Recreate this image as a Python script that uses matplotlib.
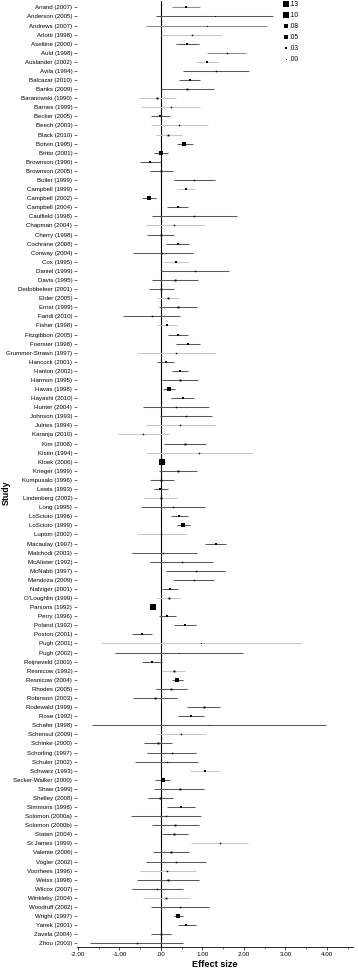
import matplotlib
matplotlib.use("Agg")
import matplotlib.pyplot as plt
from matplotlib.lines import Line2D
from matplotlib.ticker import MultipleLocator, FixedLocator

plt.rcParams['font.family'] = ['Liberation Sans', 'DejaVu Sans']

studies = ["Anand (2007)", "Anderson (2005)", "Andrews (2007)", "Arlotti (1998)", "Aseltine (2000)",
           "Auld (1998)", "Auslander (2002)", "Avila (1994)", "Balcazar (2010)", "Banks (2009)",
           "Baranowski (1990)", "Barnes (1999)", "Becker (2005)", "Beech (2003)", "Black (2010)",
           "Botvin (1995)", "Britto (2001)", "Brownson (1996)", "Brownson (2005)", "Buller (1999)",
           "Campbell (1999)", "Campbell (2002)", "Campbell (2004)", "Caulfield (1998)", "Chapman (2004)",
           "Cherry (1998)", "Cochrane (2008)", "Conway (2004)", "Cox (1995)", "Daniel (1999)",
           "Davis (1995)", "Dedobbeleer (2001)", "Elder (2005)", "Ernst (1999)", "Faridi (2010)",
           "Fisher (1998)", "Fitzgibbon (2005)", "Foerster (1998)", "Grummer-Strawn (1997)", "Hancock (2001)",
           "Hanlon (2002)", "Harmon (1995)", "Havas (1998)", "Hayashi (2010)", "Hunter (2004)",
           "Johnson (1993)", "Julnes (1994)", "Karanja (2010)", "Kim (2008)", "Kistin (1994)",
           "Kloek (2006)", "Krieger (1999)", "Kumpusalo (1996)", "Lewis (1993)", "Lindenberg (2002)",
           "Long (1995)", "LoSciuto (1996)", "LoSciuto (1999)", "Lupton (2002)", "Macaulay (1997)",
           "Malchodi (2003)", "McAlister (1992)", "McNabb (1997)", "Mendoza (2009)", "Nafziger (2001)",
           "O'Loughlin (1999)", "Parsons (1992)", "Perry (1996)", "Poland (1992)", "Poston (2001)",
           "Pugh (2001)", "Pugh (2002)", "Reijneveld (2003)", "Resnicow (1992)", "Resnicow (2004)",
           "Rhodes (2005)", "Robinson (2003)", "Rodewald (1999)", "Rose (1992)", "Schafer (1998)",
           "Schensul (2009)", "Schinke (2000)", "Schorling (1997)", "Schuler (2002)", "Schwarz (1993)",
           "Secker-Walker (2000)", "Shaw (1999)", "Shelley (2008)", "Simmons (1998)", "Solomon (2000a)",
           "Solomon (2000b)", "Staten (2004)", "St James (1999)", "Valente (2006)", "Vogler (2002)",
           "Voorhees (1996)", "Weiss (1998)", "Wilcox (2007)", "Winkleby (2004)", "Woodruff (2002)",
           "Wright (1997)", "Yanek (2001)", "Zavela (2004)", "Zhou (2003)"]

effect = [0.60, 1.29, 1.10, 0.74, 0.63, 1.58, 1.11, 1.33, 0.69, 0.63,
          -0.10, 0.23, -0.02, 0.44, 0.18, 0.56, 0.00, -0.26, 0.01, 0.80,
          0.60, -0.29, 0.40, 0.80, 0.32, -0.01, 0.40, 0.03, 0.35, 0.82,
          0.34, 0.01, 0.18, 0.41, -0.22, 0.14, 0.41, 0.65, 0.35, 0.12,
          0.46, 0.46, 0.19, 0.52, 0.36, 0.60, 0.46, -0.43, 0.57, 0.92,
          0.03, 0.40, 0.01, -0.02, -0.01, 0.28, 0.44, 0.54, 0.01, 1.32,
          0.06, 0.50, 0.84, 0.79, 0.22, 0.19, -0.19, 0.14, 0.57, -0.46,
          0.96, 0.43, -0.22, 0.31, 0.39, 0.25, -0.14, 1.03, 0.72, 1.15,
          0.49, -0.08, 0.26, 0.14, 1.06, 0.04, 0.45, -0.02, 0.48, 0.11,
          0.34, 0.32, 1.41, 0.23, 0.36, 0.15, 0.17, -0.09, 0.12, 0.46,
          0.42, 0.60, -0.01, -0.59]

ci_low = [0.27, -0.13, -0.36, 0.00, 0.35, 1.12, 0.84, 0.53, 0.44, 0.00,
          -0.52, -0.47, -0.23, -0.25, -0.13, 0.38, -0.17, -0.51, -0.26, 0.31,
          0.39, -0.45, 0.14, -0.22, -0.37, -0.34, 0.13, -0.68, 0.07, 0.00,
          -0.22, -0.30, -0.09, -0.05, -0.91, -0.09, 0.18, 0.37, -0.59, -0.09,
          0.27, 0.02, 0.05, 0.24, -0.43, -0.02, -0.37, -1.04, 0.07, -0.37,
          -0.03, -0.05, -0.27, -0.18, -0.40, -0.47, 0.23, 0.39, -0.57, 1.05,
          -0.70, -0.26, 0.13, 0.30, 0.03, -0.10, -0.23, -0.04, 0.31, -0.71,
          -1.45, -1.11, -0.45, 0.03, 0.26, -0.13, -0.67, 0.63, 0.40, -1.66,
          -0.10, -0.41, -0.34, -0.62, 0.71, -0.14, -0.16, -0.32, 0.15, -0.73,
          -0.22, 0.02, 0.72, -0.19, -0.36, -0.50, -0.58, -0.69, -0.44, -0.25,
          0.32, 0.40, -0.25, -1.71]

ci_high = [0.95, 2.71, 2.55, 1.47, 0.92, 2.05, 1.37, 2.11, 0.95, 1.27,
           0.35, 0.95, 0.21, 1.14, 0.50, 0.77, 0.18, 0.00, 0.29, 1.29,
           0.82, -0.13, 0.66, 1.82, 1.04, 0.31, 0.67, 0.76, 0.64, 1.63,
           0.90, 0.31, 0.44, 0.87, 0.46, 0.39, 0.64, 0.93, 1.29, 0.32,
           0.65, 0.88, 0.34, 0.80, 1.16, 1.23, 1.29, 0.19, 1.08, 2.21,
           0.09, 0.86, 0.31, 0.16, 0.38, 1.06, 0.65, 0.69, 0.60, 1.57,
           0.86, 1.26, 1.55, 1.27, 0.42, 0.47, -0.15, 0.35, 0.84, -0.21,
           3.38, 1.98, 0.03, 0.59, 0.52, 0.63, 0.39, 1.43, 1.04, 3.97,
           1.09, 0.26, 0.85, 0.90, 1.42, 0.22, 1.04, 0.29, 0.83, 0.97,
           0.91, 0.64, 2.10, 0.67, 1.09, 0.84, 0.92, 0.52, 0.70, 1.16,
           0.52, 0.84, 0.24, 0.53]

weight = [.03, .00, .00, .01, .03, .01, .03, .01, .04, .02,
          .02, .01, .03, .01, .02, .05, .05, .03, .02, .01,
          .04, .05, .03, .01, .01, .02, .03, .01, .03, .01,
          .02, .02, .02, .02, .01, .03, .03, .03, .01, .03,
          .04, .02, .05, .03, .01, .01, .01, .01, .02, .01,
          .13, .02, .02, .04, .02, .01, .03, .05, .01, .03,
          .01, .01, .01, .01, .03, .02, .10, .03, .03, .03,
          .00, .00, .03, .02, .05, .02, .02, .02, .03, .00,
          .01, .02, .01, .01, .03, .05, .02, .02, .03, .01,
          .02, .02, .01, .02, .01, .01, .02, .01, .02, .01,
          .08, .03, .02, .01]

shade = ['m', 'd', 'm', 'l', 'd', 'm', 'l', 'd', 'd', 'd',
         'l', 'l', 'd', 'l', 'l', 'd', 'd', 'd', 'd', 'd',
         'l', 'd', 'd', 'd', 'l', 'd', 'd', 'd', 'l', 'd',
         'd', 'd', 'l', 'd', 'd', 'l', 'd', 'd', 'l', 'd',
         'd', 'd', 'd', 'd', 'd', 'd', 'l', 'l', 'd', 'l',
         'd', 'd', 'd', 'd', 'l', 'd', 'd', 'd', 'l', 'd',
         'd', 'd', 'd', 'd', 'd', 'l', 'd', 'd', 'd', 'd',
         'l', 'd', 'd', 'l', 'd', 'd', 'd', 'd', 'd', 'd',
         'l', 'd', 'd', 'd', 'l', 'd', 'd', 'd', 'd', 'd',
         'd', 'd', 'l', 'd', 'd', 'l', 'd', 'd', 'l', 'd',
         'd', 'd', 'd', 'd']

legend_weights = [.13, .10, .08, .05, .03, .00]
legend_labels = [".13", ".10", ".08", ".05", ".03", ".00"]
x_ticks = [-2, -1, 0, 1, 2, 3, 4]
x_ticklabels = ["-2.00", "-1.00", ".00", "1.00", "2.00", "3.00", "4.00"]

shade_colors = {'d': '#5a5a5a', 'm': '#8e8e8e', 'l': '#c6c6c6'}


def msize(w):
    return (1.0 + 46.0 * w) * 0.72


W, H = 358, 971
fig = plt.figure(figsize=(W / 100, H / 100), dpi=100)
ax = fig.add_axes([77 / W, (971 - 947) / H, (353 - 77) / W, 946 / H])

n = len(studies)
ypos = list(range(1, n + 1))

ax.axvline(0, color='black', lw=0.8, zorder=1)
for i in range(n):
    y = ypos[i]
    ax.plot([ci_low[i], ci_high[i]], [y, y], color=shade_colors[shade[i]], lw=0.75,
            solid_capstyle='butt', zorder=2)
    ax.plot([effect[i]], [y], marker='s', ms=msize(weight[i]), color='black',
            mew=0, linestyle='none', zorder=3)

ax.set_xlim(-2.024, 4.627)
ax.set_ylim(n + 0.4, 0.3)

ax.set_yticks(ypos)
ax.set_yticklabels(studies, fontsize=4.45)
ax.xaxis.set_major_locator(FixedLocator(x_ticks))
ax.set_xticklabels(x_ticklabels, fontsize=4.5)
ax.xaxis.set_minor_locator(MultipleLocator(0.5))

for s in ['top', 'right', 'left']:
    ax.spines[s].set_visible(False)
ax.spines['bottom'].set_linewidth(0.6)
ax.tick_params(axis='y', length=2.2, width=0.5, pad=1.2, colors='#333333', labelcolor='black')
ax.tick_params(axis='x', which='major', length=2.5, width=0.5, pad=1.0)
ax.tick_params(axis='x', which='minor', length=1.5, width=0.4)

ax.set_xlabel("Effect size", fontsize=6.6, fontweight='bold', labelpad=2)
fig.text(6 / W, 1 - 493 / H, "Study", rotation=90, fontsize=6.3, fontweight='bold',
         ha='center', va='center')

handles = [Line2D([], [], marker='s', ms=msize(w), color='black', mew=0, linestyle='none')
           for w in legend_weights]
leg = ax.legend(handles, legend_labels, loc='upper left', bbox_to_anchor=((284 - 77) / (353 - 77), 1.0),
                frameon=False, fontsize=4.7, handlelength=0.7, handletextpad=0.2,
                labelspacing=0.62, borderaxespad=0.0, borderpad=0.0)

fig.savefig("out.png", dpi=100)
